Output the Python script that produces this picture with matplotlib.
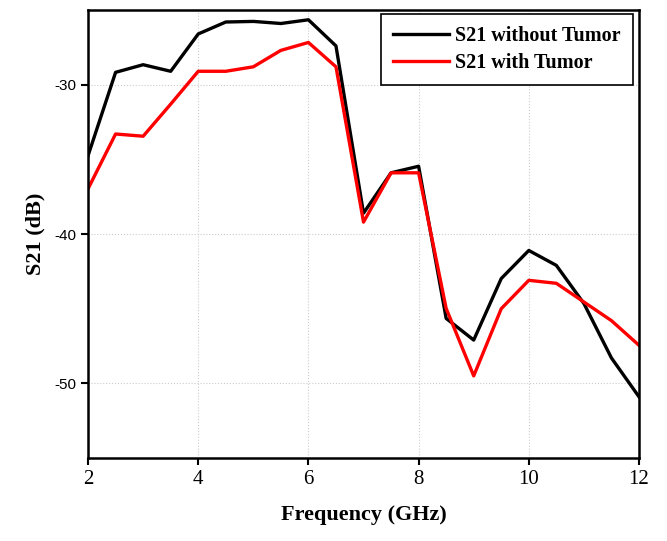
import numpy as np
import matplotlib.pyplot as plt

plt.rcParams['axes.unicode_minus'] = False

# S21 transmission data, 2-12 GHz in 0.5 GHz steps
freq = np.arange(2, 12.01, 0.5)
s21_no_tumor = [-34.75, -29.17, -28.66, -29.1, -26.6, -25.8, -25.76, -25.9, -25.65, -27.4,
                -38.6, -35.9, -35.46, -45.65, -47.1, -42.98, -41.1, -42.1, -44.65, -48.3, -50.9]
s21_tumor = [-36.97, -33.3, -33.45, -31.3, -29.1, -29.1, -28.8, -27.7, -27.17, -28.8,
             -39.2, -35.9, -35.9, -44.98, -49.5, -45.0, -43.1, -43.3, -44.55, -45.8, -47.45]

serif = ['Liberation Serif', 'DejaVu Serif']

fig = plt.figure(figsize=(6.67, 5.41), dpi=100)
ax = fig.add_axes([0.132, 0.1534, 0.826, 0.828])

ax.plot(freq, s21_no_tumor, color='black', lw=2.4, label='S21 without Tumor')
ax.plot(freq, s21_tumor, color='red', lw=2.4, label='S21 with Tumor')

ax.set_xlim(2, 12)
ax.set_ylim(-55, -25)
ax.set_xticks([2, 4, 6, 8, 10, 12])
ax.set_yticks([-30, -40, -50])
ax.grid(True, linestyle=':', color='#cccccc', lw=0.8)

for s in ax.spines.values():
    s.set_linewidth(1.8)
ax.tick_params(axis='both', direction='out', width=1.5, length=5)
for lab in ax.get_xticklabels():
    lab.set_fontfamily(serif)
    lab.set_fontsize(15)
for lab in ax.get_yticklabels():
    lab.set_fontfamily(['Liberation Sans', 'DejaVu Sans'])
    lab.set_fontsize(11)

ax.set_xlabel('Frequency (GHz)', fontsize=16, fontweight='bold', family=serif, labelpad=12)
ax.set_ylabel('S21 (dB)', fontsize=16, fontweight='bold', family=serif, labelpad=6)

leg = ax.legend(loc='upper right', fancybox=False, edgecolor='black', framealpha=1,
                prop={'family': serif, 'weight': 'bold', 'size': 14.5},
                handlelength=2.8, handletextpad=0.3, borderpad=0.6, labelspacing=0.35,
                borderaxespad=0.0, bbox_to_anchor=(0.989, 0.991))
leg.get_frame().set_linewidth(1.2)

fig.savefig('out.png', dpi=100)
